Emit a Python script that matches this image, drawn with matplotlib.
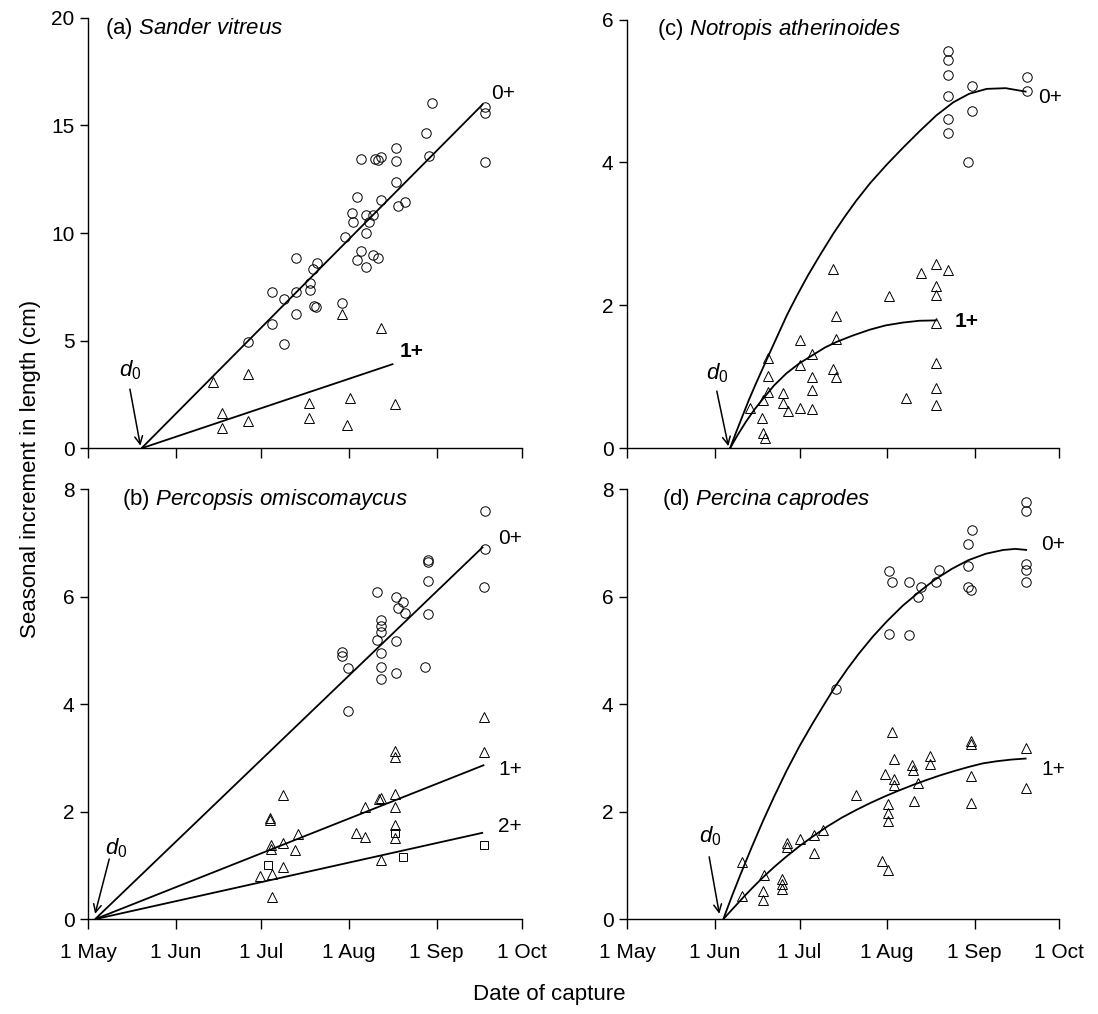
import matplotlib
matplotlib.use("Agg")
import matplotlib.pyplot as plt
from matplotlib.axes import Axes

plt.rcParams["font.family"] = ["Liberation Sans", "DejaVu Sans"]
plt.rcParams["mathtext.fontset"] = "custom"
plt.rcParams["mathtext.rm"] = "Liberation Sans"
plt.rcParams["mathtext.it"] = "Liberation Sans:italic"

# x values are days after 1 May
MONTH_DAYS = [0, 31, 61, 92, 123, 153]
MONTH_LABELS = ["1 May", "1 Jun", "1 Jul", "1 Aug", "1 Sep", "1 Oct"]

# (a) Sander vitreus
a_circ_day = [121.2, 140, 140, 140, 119.1, 120.3, 108.6, 108.6, 96.3, 101.2, 103.5, 102.4,
              108.6, 103.3, 111.8, 109.4, 94.7, 93, 98, 100.4, 93.5, 99, 98, 90.6, 96.3,
              94.7, 100.4, 102.4, 98, 73.3, 80.6, 79.4, 78.3, 78.3, 73.3, 64.7, 69.2,
              79.8, 80.4, 89.7, 73.3, 64.7, 56.5, 69.2]
a_circ_val = [16.03, 15.85, 15.57, 13.32, 14.64, 13.58, 13.97, 13.35, 13.43, 13.43, 13.55,
              13.4, 12.36, 11.54, 11.45, 11.26, 11.66, 10.95, 10.84, 10.84, 10.53, 10.53,
              9.99, 9.83, 9.17, 8.75, 8.98, 8.83, 8.44, 8.83, 8.62, 8.35, 7.67, 7.36, 7.25,
              7.25, 6.94, 6.61, 6.58, 6.74, 6.23, 5.76, 4.95, 4.85]
a_tri_day = [89.7, 103.3, 43.9, 56.5, 47.1, 47.1, 56.5, 78, 78, 92.4, 91.4, 108.3]
a_tri_val = [6.23, 5.58, 3.07, 3.45, 1.66, 0.96, 1.27, 2.09, 1.39, 2.32, 1.08, 2.06]
a_fit0_day = [18.8, 139.4]
a_fit0_val = [0, 16.0]
a_fit1_day = [18.8, 107.7]
a_fit1_val = [0, 3.92]

# (b) Percopsis omiscomaycus
b_circ_day = [140, 140, 139.8, 120, 120, 120, 120, 118.9, 102.1, 108.6, 111.2, 109.4, 111.8,
              103.3, 103.3, 103.3, 102.1, 108.6, 103.3, 103.3, 103.3, 108.6, 89.7, 89.7,
              91.8, 91.8]
b_circ_val = [7.59, 6.89, 6.19, 6.69, 6.64, 6.30, 5.68, 4.69, 6.09, 5.99, 5.91, 5.79, 5.69,
              5.57, 5.46, 5.35, 5.2, 5.18, 4.96, 4.69, 4.47, 4.59, 4.98, 4.9, 4.68, 3.88]
b_tri_day = [139.8, 139.8, 108.3, 108.3, 108.3, 108.3, 108.3, 108.3, 102.7, 103.5, 97.7,
             94.5, 97.7, 68.8, 64.1, 64.3, 73.9, 68.8, 64.5, 73, 64.5, 68.8, 60.6, 64.7,
             64.7, 103.2]
b_tri_val = [3.77, 3.12, 3.13, 3.02, 2.33, 2.09, 1.75, 1.51, 2.23, 2.25, 2.09, 1.61, 1.53,
             2.31, 1.88, 1.85, 1.59, 1.42, 1.38, 1.28, 1.3, 0.98, 0.80, 0.84, 0.41, 1.10]
b_sq_day = [108.3, 63.5, 111.2, 139.7]
b_sq_val = [1.61, 1.01, 1.15, 1.38]
b_fit0_day = [2.4, 139.4]
b_fit0_val = [0, 6.93]
b_fit1_day = [2.4, 139.8]
b_fit1_val = [0, 2.87]
b_fit2_day = [2.4, 139.4]
b_fit2_val = [0, 1.61]

# (c) Notropis atherinoides
c_circ_day = [113.7, 113.7, 113.7, 113.7, 113.7, 113.7, 122, 122, 120.8, 141.6, 141.6]
c_circ_val = [5.56, 5.44, 5.23, 4.93, 4.61, 4.41, 5.07, 4.72, 4.0, 5.2, 5.0]
c_tri_day = [72.7, 73.9, 73.9, 72.7, 73.9, 61.2, 61.2, 61.2, 65.3, 65.3, 65.3, 65.3, 55,
             55, 57, 49.9, 49.9, 49.9, 48.2, 43.4, 47.6, 48.2, 48.8, 92.8, 98.7, 104.2,
             109.3, 113.7, 109.3, 109.3, 109.3, 109.3, 109.3, 109.3]
c_tri_val = [2.51, 1.85, 1.53, 1.11, 1.0, 1.52, 1.17, 0.57, 1.32, 1.0, 0.82, 0.55, 0.77,
             0.63, 0.52, 1.27, 1.01, 0.79, 0.68, 0.56, 0.43, 0.21, 0.15, 2.13, 0.70, 2.46,
             2.58, 2.49, 2.27, 2.14, 1.76, 1.2, 0.84, 0.61]
c_fit0_day = [36.4, 38.5, 40.5, 43, 45.5, 48, 50.5, 53.5, 56.5, 60, 64, 68.2, 72.9, 77, 81,
              86, 91.9, 97.5, 103.6, 109.5, 115.4, 121, 127.3, 134, 141.4]
c_fit0_val = [0, 0.22, 0.42, 0.67, 0.9, 1.12, 1.34, 1.6, 1.86, 2.13, 2.42, 2.7, 3.0, 3.24,
              3.46, 3.71, 3.97, 4.2, 4.44, 4.66, 4.84, 4.96, 5.03, 5.04, 4.99]
c_fit1_day = [36.4, 39, 42, 45, 48.2, 52, 56.4, 61, 65.9, 70, 74.2, 80, 85.9, 91.5, 97.7,
              103.5, 109.6]
c_fit1_val = [0, 0.18, 0.37, 0.54, 0.7, 0.88, 1.05, 1.19, 1.31, 1.41, 1.49, 1.58, 1.66,
              1.72, 1.76, 1.785, 1.79]

# (d) Percina caprodes
d_circ_day = [141.4, 141.4, 122, 120.8, 120.8, 120.8, 121.6, 141.4, 141.4, 141.4, 92.8,
              93.6, 99.9, 104.2, 103, 109.3, 110.5, 92.8, 99.9, 73.9]
d_circ_val = [7.77, 7.59, 7.25, 6.99, 6.58, 6.19, 6.13, 6.61, 6.5, 6.28, 6.47, 6.28, 6.28,
              6.19, 5.99, 6.28, 6.49, 5.31, 5.28, 4.28]
d_tri_day = [93.6, 121.6, 121.6, 141.4, 94.4, 100.7, 101.1, 107.2, 107.2, 91.3, 94.4, 94.4,
             103, 121.6, 141.4, 81, 101.5, 121.6, 92.4, 92.4, 92.4, 56.7, 56.7, 61.2, 66.1,
             69.2, 66.1, 40.5, 40.5, 48.5, 47.9, 47.9, 54.9, 54.9, 54.9, 90.3, 92.4]
d_tri_val = [3.49, 3.32, 3.26, 3.18, 2.98, 2.87, 2.78, 3.04, 2.89, 2.71, 2.6, 2.5, 2.53,
             2.67, 2.45, 2.31, 2.2, 2.17, 2.14, 1.98, 1.83, 1.42, 1.34, 1.49, 1.57, 1.66,
             1.24, 1.07, 0.43, 0.82, 0.53, 0.36, 0.74, 0.65, 0.57, 1.09, 0.92]
d_fit0_day = [34, 37, 40, 44, 48, 52, 56.4, 61, 65.6, 70, 73.9, 78, 82, 87, 91.9, 97.5,
              103.6, 109, 115, 120.8, 127, 133.1, 137.5, 141.6]
d_fit0_val = [0, 0.42, 0.82, 1.33, 1.82, 2.28, 2.76, 3.22, 3.64, 4.02, 4.35, 4.66, 4.94,
              5.26, 5.54, 5.83, 6.1, 6.32, 6.52, 6.68, 6.8, 6.87, 6.89, 6.87]
d_fit1_day = [34, 38, 41.5, 45, 48.5, 52, 56, 61, 66, 71, 76, 81, 86, 91, 96, 101.3, 106,
              111, 116, 121.4, 126, 131, 136, 141.4]
d_fit1_val = [0, 0.23, 0.43, 0.62, 0.8, 0.97, 1.15, 1.36, 1.55, 1.73, 1.89, 2.03, 2.16,
              2.28, 2.39, 2.5, 2.59, 2.68, 2.76, 2.84, 2.9, 2.94, 2.97, 2.99]

FS = 15
MK = dict(linestyle="none", markerfacecolor="none", markeredgecolor="black",
          markeredgewidth=0.7)


def style_axis(ax: Axes, ymax: float, ystep: float, show_xlabels: bool):
    ax.spines["top"].set_visible(False)
    ax.spines["right"].set_visible(False)
    ax.spines["left"].set_linewidth(1.0)
    ax.spines["bottom"].set_linewidth(1.0)
    ax.set_xlim(0, 153)
    ax.set_ylim(0, ymax)
    ax.set_xticks(MONTH_DAYS)
    ax.set_xticklabels(MONTH_LABELS if show_xlabels else [])
    ax.set_yticks([ystep * i for i in range(int(round(ymax / ystep)) + 1)])
    ax.tick_params(axis="x", direction="out", length=7, width=1.0, labelsize=FS, pad=10)
    ax.tick_params(axis="y", direction="out", length=6, width=1.0, labelsize=FS, pad=4)
    return ax


def plot_points(ax: Axes, day, val, marker, size):
    ax.plot(day, val, marker=marker, markersize=size, clip_on=False, **MK)


def plot_fit(ax: Axes, day, val):
    ax.plot(day, val, color="black", lw=1.3, clip_on=False, solid_capstyle="butt",
            solid_joinstyle="round")


def add_d0(ax: Axes, text_xy, tail, tip):
    ax.text(*text_xy, r"$d_0$", fontsize=FS + 1, ha="center", va="center")
    ax.annotate("", xy=tip, xytext=tail,
                arrowprops=dict(arrowstyle="->", lw=1.1, color="black",
                                mutation_scale=14, shrinkA=0, shrinkB=0))


def add_title(ax: Axes, x, letter, species):
    name = species.replace(" ", r"\ ")
    ax.text(x, 0.976, f"({letter}) " + r"$\mathit{" + name + "}$", transform=ax.transAxes,
            fontsize=FS + 1, ha="left", va="center")


fig = plt.figure(figsize=(10.98, 10.14), dpi=100)
ax_a = fig.add_axes([0.0804, 0.5579, 0.3947, 0.4245])
ax_c = fig.add_axes([0.5713, 0.5579, 0.3934, 0.4228])
ax_b = fig.add_axes([0.0804, 0.0935, 0.3947, 0.4240])
ax_d = fig.add_axes([0.5713, 0.0935, 0.3934, 0.4240])

# (a)
style_axis(ax_a, 20, 5, False)
plot_points(ax_a, a_circ_day, a_circ_val, "o", 6.8)
plot_points(ax_a, a_tri_day, a_tri_val, "^", 6.5)
plot_fit(ax_a, a_fit0_day, a_fit0_val)
plot_fit(ax_a, a_fit1_day, a_fit1_val)
ax_a.text(146.5, 16.48, "0+", fontsize=FS, ha="center", va="center")
ax_a.text(114.1, 4.5, "1+", fontsize=FS, fontweight="bold", ha="center", va="center")
add_d0(ax_a, (14.7, 3.64), (14.7, 2.75), (18.4, 0.12))
add_title(ax_a, 0.039, "a", "Sander vitreus")

# (b)
style_axis(ax_b, 8, 2, True)
plot_points(ax_b, b_circ_day, b_circ_val, "o", 6.8)
plot_points(ax_b, b_tri_day, b_tri_val, "^", 6.5)
plot_points(ax_b, b_sq_day, b_sq_val, "s", 6.2)
plot_fit(ax_b, b_fit0_day, b_fit0_val)
plot_fit(ax_b, b_fit1_day, b_fit1_val)
plot_fit(ax_b, b_fit2_day, b_fit2_val)
ax_b.text(148.8, 7.09, "0+", fontsize=FS, ha="center", va="center")
ax_b.text(148.8, 2.79, "1+", fontsize=FS, ha="center", va="center")
ax_b.text(148.8, 1.72, "2+", fontsize=FS, ha="center", va="center")
add_d0(ax_b, (10.0, 1.32), (7.4, 1.12), (2.4, 0.1))
add_title(ax_b, 0.077, "b", "Percopsis omiscomaycus")

# (c)
style_axis(ax_c, 6, 2, False)
plot_points(ax_c, c_circ_day, c_circ_val, "o", 6.8)
plot_points(ax_c, c_tri_day, c_tri_val, "^", 6.5)
plot_fit(ax_c, c_fit0_day, c_fit0_val)
plot_fit(ax_c, c_fit1_day, c_fit1_val)
ax_c.text(149.7, 4.91, "0+", fontsize=FS, ha="center", va="center")
ax_c.text(120.2, 1.78, "1+", fontsize=FS, fontweight="bold", ha="center", va="center")
add_d0(ax_c, (31.7, 1.05), (31.7, 0.8), (35.8, 0.03))
add_title(ax_c, 0.068, "c", "Notropis atherinoides")

# (d)
style_axis(ax_d, 8, 2, True)
plot_points(ax_d, d_circ_day, d_circ_val, "o", 6.8)
plot_points(ax_d, d_tri_day, d_tri_val, "^", 6.5)
plot_fit(ax_d, d_fit0_day, d_fit0_val)
plot_fit(ax_d, d_fit1_day, d_fit1_val)
ax_d.text(150.9, 6.97, "0+", fontsize=FS, ha="center", va="center")
ax_d.text(150.9, 2.78, "1+", fontsize=FS, ha="center", va="center")
add_d0(ax_d, (29.3, 1.55), (29.0, 1.16), (32.6, 0.1))
add_title(ax_d, 0.08, "d", "Percina caprodes")

fig.text(0.028, 0.538, "Seasonal increment in length (cm)", rotation=90,
         fontsize=FS + 1, ha="center", va="center")
fig.text(0.5, 0.019, "Date of capture", fontsize=FS + 1, ha="center", va="center")

fig.savefig("out.png", dpi=100)
